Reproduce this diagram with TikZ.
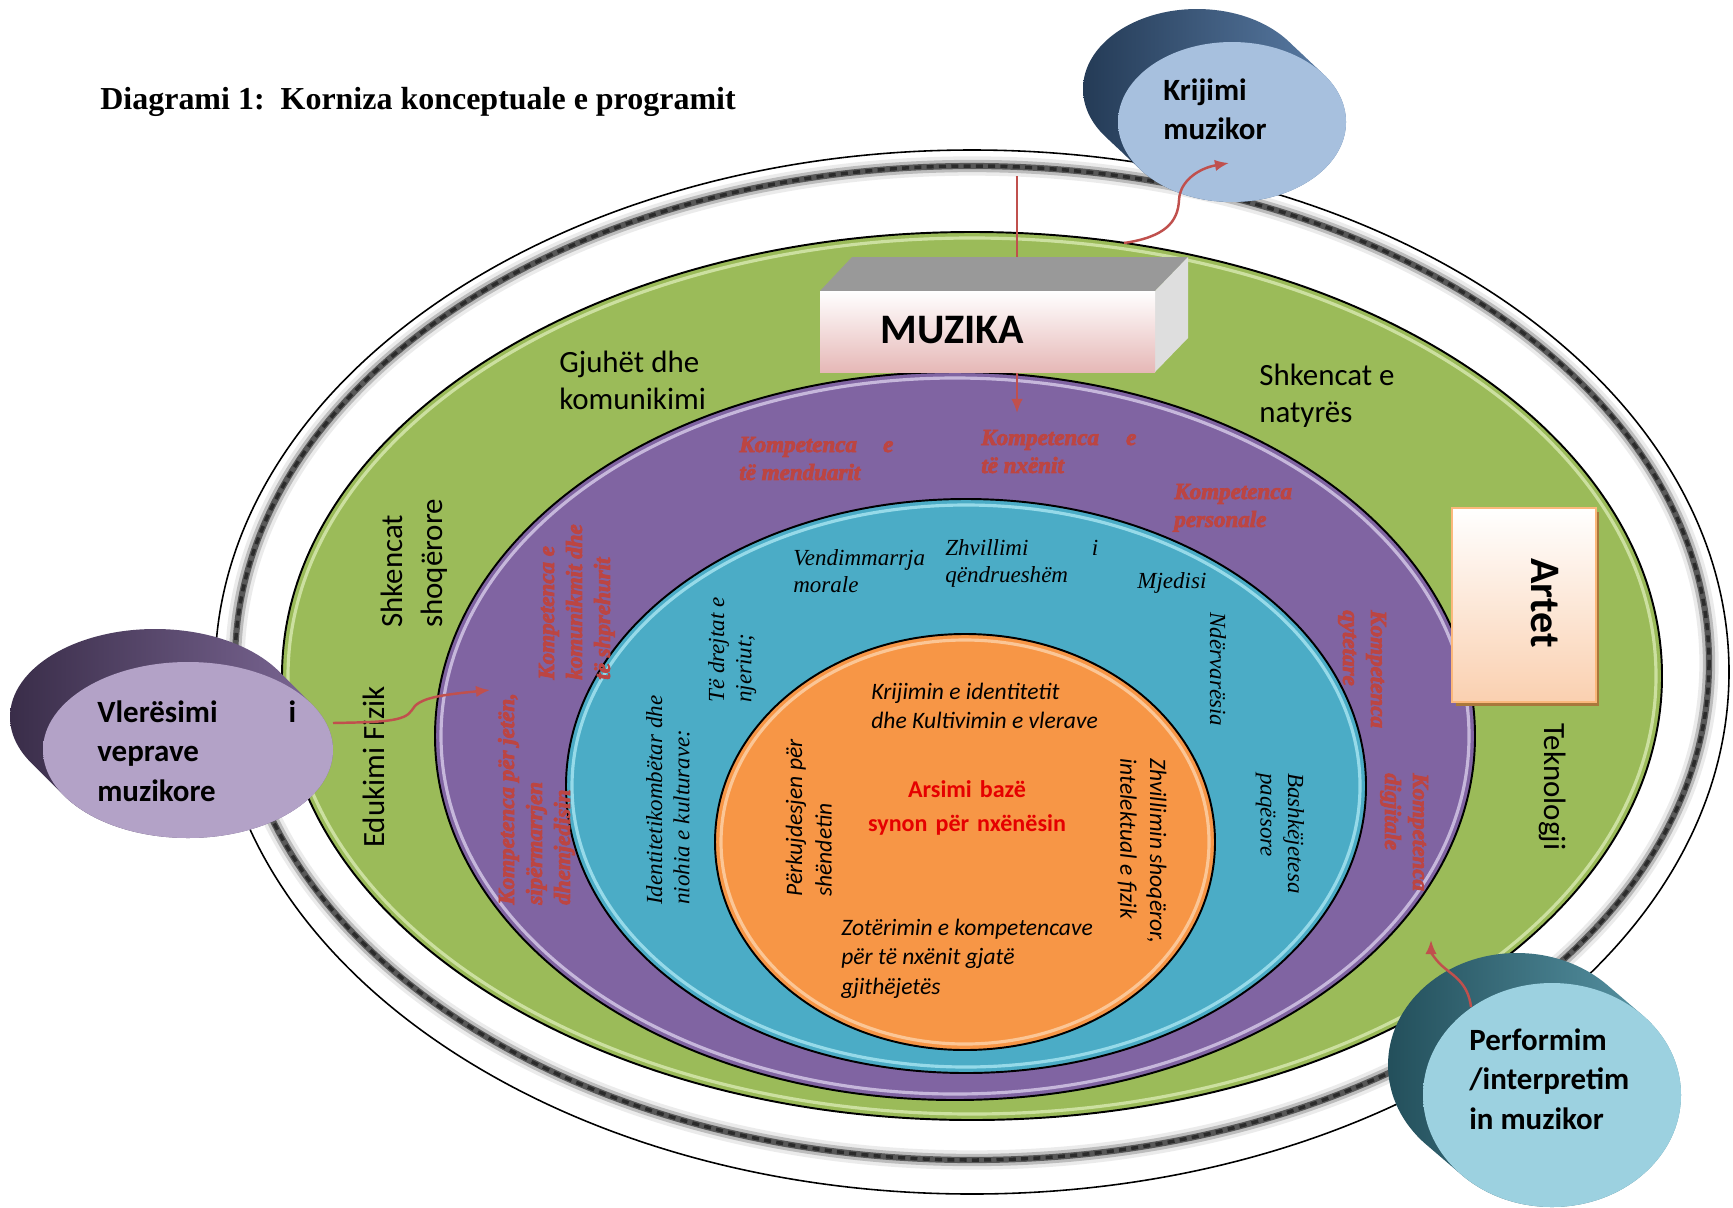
\documentclass[tikz,border=0pt]{standalone}
\usepackage{fontspec}
\setmainfont{Liberation Serif}
\setsansfont{Carlito}
\usetikzlibrary{arrows.meta}
\newcommand\kompbold{\special{pdf:literal direct 2 Tr 0.45 w}}
\definecolor{gjelber}{HTML}{9BBB59}
\definecolor{gjelberBuze}{HTML}{D9EAB2}
\definecolor{vjollce}{HTML}{8064A2}
\definecolor{vjollceBuze}{HTML}{D8CCEA}
\definecolor{blu}{HTML}{4BACC6}
\definecolor{bluBuze}{HTML}{A9E6F2}
\definecolor{portokalli}{HTML}{F79646}
\definecolor{portokalliBuze}{HTML}{FCD2AA}
\definecolor{ndryshk}{HTML}{BC4542}
\definecolor{shigjeta}{HTML}{C0504D}
\definecolor{roze}{HTML}{E6B8B7}
\definecolor{pjeshke}{HTML}{FAD0B0}
\definecolor{kafe}{HTML}{A9783C}
\definecolor{qiell}{HTML}{4F81BD}
\tikzset{>={Latex[length=8pt,width=6.5pt]}}
\tikzset{
  ring/.style = {draw=black, line width=1.1pt},
  gloss/.style = {line width=1.8pt, opacity=.8},
  lbl/.style = {inner sep=0pt, anchor=base west, align=flush left, text width=#1},
  lbl/.default = 16cm,
  shigjete/.style = {->, draw=shigjeta, line width=1.4pt}
}

\begin{document}
\begin{tikzpicture}[x=0.02cm,y=-0.02cm,
    lenda/.style={lbl=#1, font=\sffamily\fontsize{17.6}{21.5}\selectfont}, lenda/.default=16cm,
    komp/.style={lbl=#1, text=ndryshk, font=\fontsize{13.1}{15.9}\selectfont\bfseries\itshape\kompbold}, komp/.default=16cm,
    tema/.style={lbl=#1, font=\itshape\fontsize{13.1}{15.6}\selectfont}, tema/.default=16cm,
    synim/.style={lbl=#1, font=\sffamily\itshape\fontsize{13.4}{16.9}\selectfont}, synim/.default=16cm,
    cyl/.style={lbl=#1, font=\sffamily\bfseries\fontsize{17.6}{22.5}\selectfont}, cyl/.default=16cm]
  \fill[white] (0,0) rectangle (1733,1207);
  \useasboundingbox (0,0) rectangle (1733,1207);

  \node[inner sep=0pt, anchor=base west, font=\bfseries\fontsize{18.2}{22}\selectfont] (titulli) at (100,109)
    {Diagrami 1:\ \ Korniza konceptuale e programit};

  % unaza e jashtme
  \draw[line width=0.9pt] (972,672) ellipse (757 and 522);
  \draw[black, line width=11pt, opacity=.08] (972,663) ellipse (737 and 497);
  \draw[black, line width=7pt, opacity=.2] (972,663) ellipse (737 and 497);
  \draw[black!75, line width=3.5pt, opacity=.8] (972,663) ellipse (737 and 497);
  \draw[black, line width=2pt, opacity=.5, dash pattern=on 4pt off 3pt] (972,663) ellipse (737 and 497);

  % unazat me ngjyre
  \foreach \cx/\cy/\rx/\ry/\sx/\sy/\ngj in {972/676/690/444/684/438/gjelber,
      955/736/520/364/514/358/vjollce, 966/786/400/287/394/281/blu,
      965/842/250/208/244/202/portokalli} {
    \draw[ring, fill=\ngj] (\cx,\cy) ellipse [x radius=\rx, y radius=\ry];
    \draw[gloss, draw=\ngj Buze] (\cx,\cy) ellipse [x radius=\sx, y radius=\sy];
  }

  % lendet
  \node[lenda] (gjuhet) at (559,372) {Gjuhët dhe\\komunikimi};
  \node[lenda] (natyra) at (1259,385) {Shkencat e\\natyrës};
  \node[lenda, rotate=90, font=\sffamily\fontsize{17.6}{22.8}\selectfont] (shoqerore) at (402,628) {Shkencat\\shoqërore};
  \node[lenda, rotate=90] (edukimi) at (384,848) {Edukimi Fizik};
  \node[lenda, rotate=-90] (teknologji) at (1544,723) {Teknologji};

  % kompetencat
  \node[komp=3.08cm] (kMenduarit) at (739,452) {Kompetenca\hfill e\\të menduarit};
  \node[komp=3.1cm] (kNxenit) at (981,445) {Kompetenca\hfill e\\të nxënit};
  \node[komp] (kPersonale) at (1174,499) {Kompetenca\\personale};
  \node[komp, rotate=90] (kKomunikimit) at (554,680) {Kompetenca e\\komunikmit dhe\\të shprehurit};
  \node[komp, rotate=90] (kJetes) at (514,905) {Kompetenca për jetën,\\sipërmarrjen\\dhemjedisin};
  \node[komp, rotate=-90] (kQytetare) at (1371,610) {Kompetenca\\qytetare};
  \node[komp, rotate=-90] (kDigjitale) at (1413,773) {Kompetenca\\digjitale};

  % temat
  \node[tema] (tVendim) at (793,565) {Vendimmarrja\\morale};
  \node[tema=3.06cm] (tZhvillim) at (945,555) {Zhvillimi\hfill i\\qëndrueshëm};
  \node[tema] (tMjedisi) at (1137,588) {Mjedisi};
  \node[tema, rotate=90] (tDrejtat) at (724,703) {Të drejtat e\\njeriut;};
  \node[tema, rotate=90] (tIdentitet) at (662,905) {Identitetikombëtar dhe\\niohia e kulturave:};
  \node[tema, rotate=-90] (tNdervaresia) at (1210,612) {Ndërvarësia};
  \node[tema, rotate=-90] (tBashke) at (1288,773) {Bashkëjetesa\\paqësore};

  % synimet
  \node[synim] (sKrijimi) at (871,699) {Krijimin e identitetit\\dhe Kultivimin e vlerave};
  \node[lbl=4cm, anchor=base, align=center, text=red!90!black,
    font=\sffamily\bfseries\fontsize{13.7}{19.9}\selectfont] (sArsimi) at (967,797) {Arsimi bazë\\synon për nxënësin};
  \node[synim, rotate=90] (sPerkujdesje) at (802,897) {Përkujdesjen për\\shëndetin};
  \node[synim] (sZoterimi) at (841,935) {Zotërimin e kompetencave\\për të nxënit gjatë\\gjithëjetës};
  \node[synim, rotate=-90] (sZhvillimi) at (1150,758) {Zhvillimin shoqëror,\\intelektual e fizik};

  % MUZIKA
  \coordinate (mz1) at (1017,176);
  \coordinate (mz2) at (1017,413);
  \draw[shigjete, line width=1.1pt] (mz1) -- (mz2);
  \fill[black!40] (820,291) -- (852,257) -- (1188,257) -- (1155,291) -- cycle;
  \fill[black!13] (1155,291) -- (1188,257) -- (1188,338) -- (1155,372) -- cycle;
  \shade[top color=white, bottom color=roze] (820,291) rectangle (1155,372);
  \node[lbl, font=\sffamily\bfseries\fontsize{23.9}{28}\selectfont] (muzika) at (880,343) {MUZIKA};

  % Artet
  \fill[kafe] (1456,512) rectangle (1599,706);
  \shade[top color=white, bottom color=pjeshke] (1452,508) rectangle (1596,702);
  \draw[draw=pjeshke!70!orange, line width=1.2pt] (1452,508) rectangle (1596,702);
  \node[lbl, rotate=-90, font=\sffamily\bfseries\fontsize{23.9}{28}\selectfont] (artet) at (1531,558) {Artet};

  % Vleresimi i veprave muzikore
  \begin{scope}
    \clip \foreach \t in {0,1,...,10} {({188-3.3*\t},{750-3.3*\t}) ellipse [x radius=145, y radius=88]};
    \shade[left color=vjollce!45!black, right color=vjollce!75!gray] (10,600) rectangle (340,850);
  \end{scope}
  \shade[top color=vjollce!60!white, middle color=vjollce!95!white, bottom color=vjollce!60!white] (188,750) ellipse [x radius=145, y radius=88];
  \node[cyl=3.98cm] (vleresimi) at (97,722) {Vlerësimi\hfill i\\veprave\\muzikore};
  \coordinate (vl1) at (333,723);
  \coordinate (vl2) at (490,690);
  \draw[shigjete] (vl1) .. controls (380,722) and (405,722) .. (412,710) .. controls (418,698) and (440,695) .. (vl2);

  % Krijimi muzikor
  \begin{scope}
    \clip \foreach \t in {0,1,...,10} {({1232-3.5*\t},{122-3.3*\t}) ellipse [x radius=114, y radius=80]};
    \shade[left color=qiell!45!black, right color=qiell!70!gray] (1080,0) rectangle (1350,210);
  \end{scope}
  \shade[top color=qiell!50!white, middle color=qiell, bottom color=qiell!50!white] (1232,122) ellipse [x radius=114, y radius=80];
  \node[cyl] (krijimi) at (1163,100) {Krijimi\\muzikor};
  \coordinate (kr1) at (1124,243);
  \coordinate (kr2) at (1229,163);
  \draw[shigjete] (kr1) .. controls (1165,237) and (1178,222) .. (1179,200) .. controls (1180,180) and (1200,168) .. (kr2);

  % Performim
  \begin{scope}
    \clip \foreach \t in {0,1,...,10} {({1552-3.5*\t},{1095-3*\t}) ellipse [x radius=129, y radius=112]};
    \shade[left color=blu!45!black, right color=blu!65!gray] (1380,950) rectangle (1690,1210);
  \end{scope}
  \shade[top color=blu!55!white, middle color=blu, bottom color=blu!55!white] (1552,1095) ellipse [x radius=129, y radius=112];
  \node[cyl] (performimi) at (1469,1050) {Performim\\/interpretim\\in muzikor};
  \coordinate (pf1) at (1471,1007);
  \coordinate (pf2) at (1431,940);
  \draw[shigjete] (pf1) .. controls (1468,982) and (1452,975) .. (1441,965) .. controls (1434,958) and (1431,952) .. (pf2);
\end{tikzpicture}
\end{document}
